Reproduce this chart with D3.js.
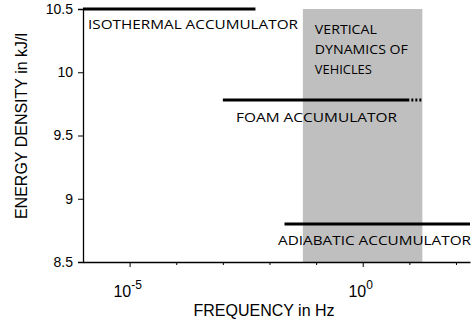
<!DOCTYPE html>
<html>
<head>
<meta charset="utf-8">
<script src="https://cdn.jsdelivr.net/npm/d3@7"></script>
<style>
body { margin: 0; background: #fff; }
svg text { fill: #000; }
</style>
</head>
<body>
<div id="chart"></div>
<script>
var w = 475;
var h = 320;

// accumulator ranges: [label, fMin, fMax, energy density]
var accNames = ["ISOTHERMAL ACCUMULATOR", "FOAM ACCUMULATOR", "ADIABATIC ACCUMULATOR"];
var accFreqMin = [1e-6, 0.001, 0.021];
var accFreqMax = [0.005, 10, 200];
var accEnergy = [10.5, 9.78, 8.8];
// dotted continuation of the foam line
var foamDotted = [10, 19];

// grey band: vertical dynamics of vehicles
var bandFreq = [0.052, 19];
var bandLines = ["VERTICAL", "DYNAMICS OF", "VEHICLES"];

var yTicks = [8.5, 9, 9.5, 10, 10.5];
var xMajor = [1e-5, 1];
var xMinor = [1e-4, 1e-3, 1e-2, 1e-1, 10, 100];

var margin = {left: 83, right: 5, top: 9, bottom: 58};

var svg = d3.select("#chart")
    .append("svg")
    .attr("width", w)
    .attr("height", h);

var xScale = d3.scaleLog()
    .domain([1e-6, 200])
    .range([margin.left, w - margin.right]);

var yScale = d3.scaleLinear()
    .domain([8.5, 10.5])
    .range([h - margin.bottom, margin.top]);

// band
svg.append("rect")
    .attr("x", xScale(bandFreq[0]))
    .attr("y", yScale(10.5))
    .attr("width", xScale(bandFreq[1]) - xScale(bandFreq[0]))
    .attr("height", yScale(8.5) - yScale(10.5))
    .attr("fill", "#bfbfbf");

var bandW = [62, 93, 57];
svg.selectAll("text.band")
    .data(bandLines)
    .enter()
    .append("text")
    .attr("class", "band")
    .attr("x", xScale(bandFreq[0]) + 12)
    .attr("y", function (d, i) { return 34 + i * 20; })
    .attr("font-family", "Open Sans, sans-serif")
    .attr("font-size", "13px")
    .attr("textLength", function (d, i) { return bandW[i]; })
    .attr("lengthAdjust", "spacingAndGlyphs")
    .text(function (d) { return d; });

// axes
var yAxis = d3.axisLeft(yScale)
    .tickValues(yTicks)
    .tickSize(5)
    .tickFormat(d3.format("~g"));

svg.append("g")
    .attr("class", "axis axis--y")
    .attr("transform", "translate(" + margin.left + ",0)")
    .call(yAxis)
    .call(function (g) {
        g.selectAll("text").attr("font-family", "Liberation Sans, Arial, sans-serif").attr("font-size", "14px").attr("dx", "-2");
    });

svg.append("g")
    .attr("transform", "translate(0," + yScale(8.5) + ")")
    .call(d3.axisBottom(xScale).tickValues(xMinor).tickSize(3).tickFormat(""))
    .call(function (g) { g.select(".domain").remove(); });

var xAxis = d3.axisBottom(xScale)
    .tickValues(xMajor)
    .tickSize(5)
    .tickSizeOuter(0)
    .tickFormat("");

svg.append("g")
    .attr("class", "axis axis--x")
    .attr("transform", "translate(0," + yScale(8.5) + ")")
    .call(xAxis);

svg.selectAll(".domain").attr("stroke-width", 1.3);

var xl = svg.selectAll("text.xtick")
    .data(xMajor)
    .enter()
    .append("text")
    .attr("class", "xtick")
    .attr("x", function (d) { return xScale(d) - 2; })
    .attr("y", 297)
    .attr("text-anchor", "middle")
    .attr("font-family", "Liberation Sans, Arial, sans-serif")
    .attr("font-size", "16px");
xl.append("tspan").text("10");
xl.append("tspan")
    .attr("dy", -8)
    .attr("font-size", "12px")
    .text(function (d) { return Math.round(Math.log10(d)); });

// axis titles
svg.append("text")
    .attr("x", 264)
    .attr("y", 316)
    .attr("text-anchor", "middle")
    .attr("font-family", "Liberation Sans, Arial, sans-serif")
    .attr("font-size", "16px")
    .text("FREQUENCY in Hz");

svg.append("text")
    .attr("transform", "translate(27,126) rotate(-90)")
    .attr("text-anchor", "middle")
    .attr("font-family", "Liberation Sans, Arial, sans-serif")
    .attr("font-size", "16px")
    .text("ENERGY DENSITY in kJ/l");

// accumulator lines
svg.selectAll("line.acc")
    .data(accNames)
    .enter()
    .append("line")
    .attr("class", "acc")
    .attr("x1", function (d, i) { return xScale(accFreqMin[i]); })
    .attr("x2", function (d, i) { return xScale(accFreqMax[i]); })
    .attr("y1", function (d, i) { return yScale(accEnergy[i]); })
    .attr("y2", function (d, i) { return yScale(accEnergy[i]); })
    .attr("stroke", "#000")
    .attr("stroke-width", 3);

svg.append("line")
    .attr("x1", xScale(foamDotted[0]) + 2)
    .attr("x2", xScale(foamDotted[1]))
    .attr("y1", yScale(accEnergy[1]))
    .attr("y2", yScale(accEnergy[1]))
    .attr("stroke", "#000")
    .attr("stroke-width", 3)
    .attr("stroke-dasharray", "2,2");

// labels
var labelX = [88, 236, 278];
var labelY = [29, 122, 245];
var labelW = [210, 161, 193];
svg.selectAll("text.acc")
    .data(accNames)
    .enter()
    .append("text")
    .attr("class", "acc")
    .attr("x", function (d, i) { return labelX[i]; })
    .attr("y", function (d, i) { return labelY[i]; })
    .attr("font-family", "Open Sans, sans-serif")
    .attr("font-size", "13px")
    .attr("textLength", function (d, i) { return labelW[i]; })
    .attr("lengthAdjust", "spacingAndGlyphs")
    .text(function (d) { return d; });
</script>
</body>
</html>
